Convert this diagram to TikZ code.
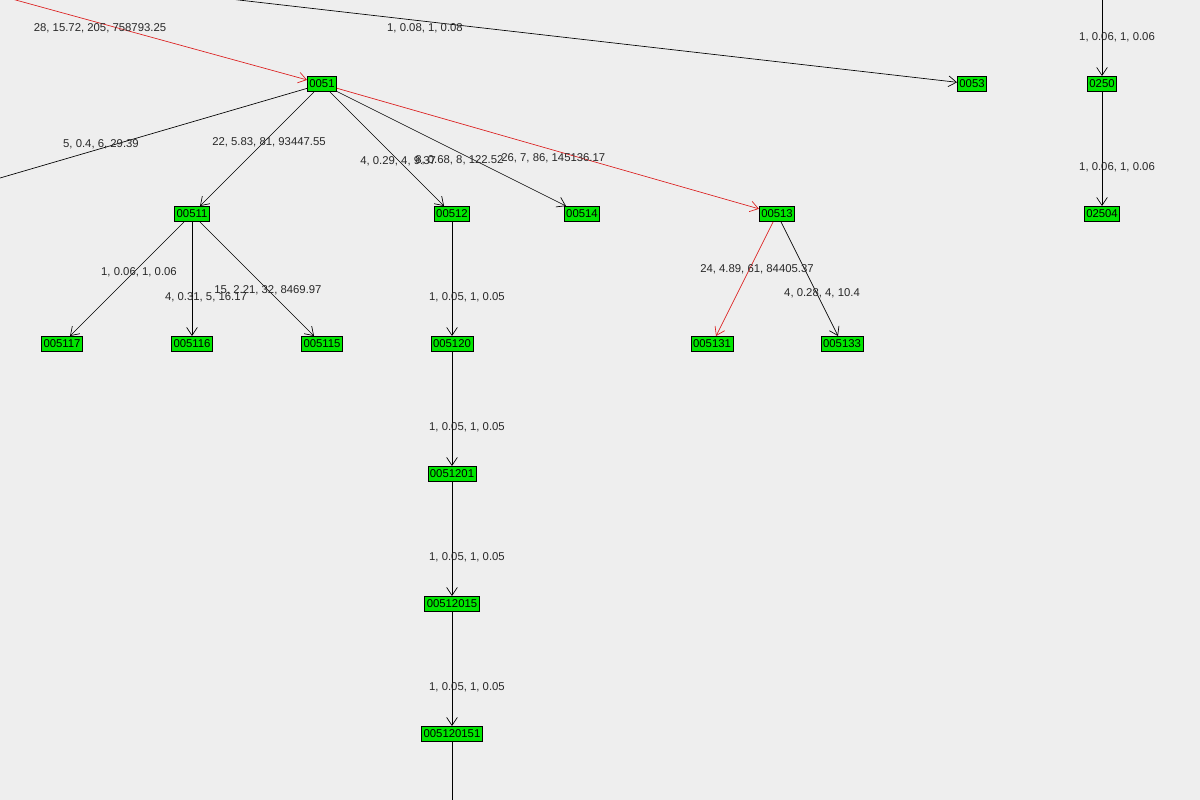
\documentclass[tikz,border=0pt]{standalone}
\usepackage{fontspec}
\setmainfont{Liberation Sans}
\usetikzlibrary{arrows.meta}
\definecolor{bgc}{RGB}{238,238,238}
\definecolor{ndg}{RGB}{0,230,0}
\definecolor{edr}{RGB}{220,30,30}
\definecolor{lbt}{RGB}{40,40,40}
\begin{document}
\begin{tikzpicture}[x=0.75pt,y=-0.75pt,
 nd/.style={draw=black,fill=ndg,inner xsep=1.5pt,inner ysep=0pt,minimum height=11.5pt,font=\fontsize{8.5}{9}\selectfont,line width=0.5pt},
 ed/.style={draw=black,line width=0.5pt,-{Straight Barb[length=6pt,width=8pt]}},
 redge/.style={draw=edr},
 lb/.style={font=\fontsize{8.5}{9}\selectfont,text=lbt,inner sep=0pt}]
\fill[bgc] (0,0) rectangle (1200,800);
\useasboundingbox (0,0) rectangle (1200,800);
\node[nd] (n0051) at (322,84) {0051};
\node[nd] (n0053) at (972,84) {0053};
\node[nd] (n0250) at (1102,84) {0250};
\node[nd] (n00511) at (192,214) {00511};
\node[nd] (n00512) at (452,214) {00512};
\node[nd] (n00514) at (582,214) {00514};
\node[nd] (n00513) at (777,214) {00513};
\node[nd] (n02504) at (1102,214) {02504};
\node[nd] (n005117) at (62,344) {005117};
\node[nd] (n005116) at (192,344) {005116};
\node[nd] (n005115) at (322,344) {005115};
\node[nd] (n005120) at (452,344) {005120};
\node[nd] (n005131) at (712,344) {005131};
\node[nd] (n005133) at (842,344) {005133};
\node[nd] (n0051201) at (452,474) {0051201};
\node[nd] (n00512015) at (452,604) {00512015};
\node[nd] (n005120151) at (452,734) {005120151};
\coordinate (cA) at (12,-1);
\coordinate (cB) at (230,-1);
\coordinate (cC) at (1102,-1);
\coordinate (cD) at (0,178);
\coordinate (cE) at (452,801);
\draw[ed,redge] (cA) -- (n0051);
\draw[ed] (cB) -- (n0053);
\draw[ed] (cC) -- (n0250);
\draw[ed] (n0250) -- (n02504);
\draw[line width=0.5pt] (n0051) -- (cD);
\draw[ed] (n0051) -- (n00511);
\draw[ed] (n0051) -- (n00512);
\draw[ed] (n0051) -- (n00514);
\draw[ed,redge] (n0051) -- (n00513);
\draw[ed] (n00511) -- (n005117);
\draw[ed] (n00511) -- (n005116);
\draw[ed] (n00511) -- (n005115);
\draw[ed] (n00512) -- (n005120);
\draw[ed] (n005120) -- (n0051201);
\draw[ed] (n0051201) -- (n00512015);
\draw[ed] (n00512015) -- (n005120151);
\draw[line width=0.5pt] (n005120151) -- (cE);
\draw[ed,redge] (n00513) -- (n005131);
\draw[ed] (n00513) -- (n005133);
\node[lb] at (100,28) {28, 15.72, 205, 758793.25};
\node[lb] at (425,28) {1, 0.08, 1, 0.08};
\node[lb] at (1117,37) {1, 0.06, 1, 0.06};
\node[lb] at (1117,167) {1, 0.06, 1, 0.06};
\node[lb] at (101,144) {5, 0.4, 6, 29.39};
\node[lb] at (269,142) {22, 5.83, 81, 93447.55};
\node[lb,anchor=west] at (360,161) {4, 0.29, 4, 9.37};
\node[lb,anchor=west] at (415,160) {8, 0.68, 8, 122.52};
\node[lb,anchor=west] at (501,158) {26, 7, 86, 145136.17};
\node[lb] at (757,269) {24, 4.89, 61, 84405.37};
\node[lb] at (822,293) {4, 0.28, 4, 10.4};
\node[lb] at (139,272) {1, 0.06, 1, 0.06};
\node[lb] at (206,297) {4, 0.31, 5, 16.17};
\node[lb] at (268,290) {15, 2.21, 32, 8469.97};
\node[lb] at (467,297) {1, 0.05, 1, 0.05};
\node[lb] at (467,427) {1, 0.05, 1, 0.05};
\node[lb] at (467,557) {1, 0.05, 1, 0.05};
\node[lb] at (467,687) {1, 0.05, 1, 0.05};
\end{tikzpicture}
\end{document}
